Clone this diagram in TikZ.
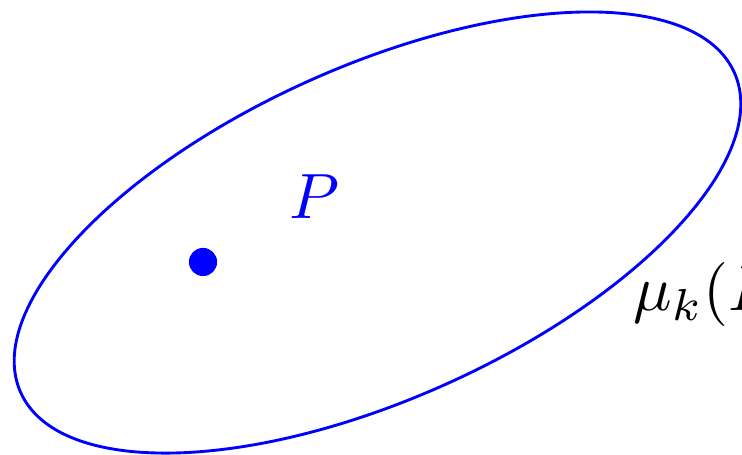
\documentclass[tikz,border=0pt]{standalone}
\usepackage{amsmath,amssymb}
\usepackage{tikz}
\usetikzlibrary{positioning,calc}

\begin{document}
\begin{tikzpicture}[x=0.15625pt, y=0.15625pt]
  % Frame
  \useasboundingbox (0,0) rectangle (742,454);

  % Region
  \coordinate (ctr) at (377.5,221.5);
  \draw[blue, line width=0.45pt, rotate around={24.15:(ctr)}]
    (ctr) ellipse [x radius=61.1pt, y radius=26pt];

  % Point and labels
  \node[circle, fill=blue, inner sep=0pt, minimum size=4.4pt] (pt) at (203,192) {};
  \node[blue] (plabel) at (314,257) {$P$};
  \node[anchor=base west, inner sep=0pt] (mulabel) at (632,143) {$\mu_k(P)$};
\end{tikzpicture}
\end{document}
